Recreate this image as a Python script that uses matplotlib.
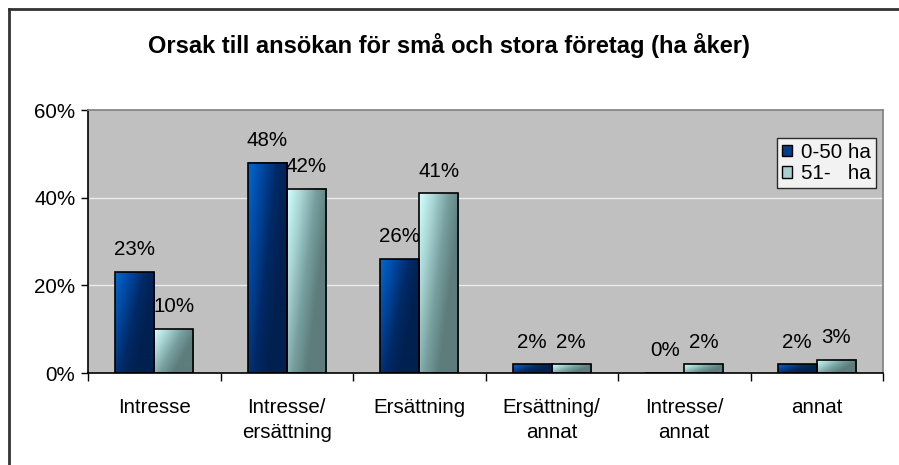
import numpy as np
import matplotlib.pyplot as plt
from matplotlib.lines import Line2D
from matplotlib.patches import Patch
from matplotlib.colors import LinearSegmentedColormap

plt.rcParams['font.family'] = ['Liberation Sans', 'DejaVu Sans']

categories = ['Intresse', 'Intresse/\nersättning', 'Ersättning',
              'Ersättning/\nannat', 'Intresse/\nannat', 'annat']
small = [23, 48, 26, 2, 0, 2]      # 0-50 ha
large = [10, 42, 41, 2, 2, 3]      # 51-   ha
series_names = ['0-50 ha', '51-   ha']

blue_cmap = LinearSegmentedColormap.from_list('b', ['#0068d0', '#0048a0', '#002a66', '#002050'])
cyan_cmap = LinearSegmentedColormap.from_list('c', ['#d4ffff', '#a8d4d4', '#78a0a0', '#5e7c7c'])

fig = plt.figure(figsize=(8.99, 4.65), dpi=100)
W, H = 899, 465
ax = fig.add_axes([88 / W, (H - 373) / H, (883 - 88) / W, (373 - 110) / H])
ax.set_facecolor('#c0c0c0')

width = 0.295
fs = 14.8


def gradient_bar(x0, h, cmap):
    if h <= 0:
        return
    xf = np.linspace(0, 1, 40)
    yf = np.linspace(0, 1, 80)           # 0 at the bar top, 1 at the bottom
    X, Y = np.meshgrid(xf, yf)
    t = np.clip(0.9 * X + 0.55 * Y, 0, 1)
    # flip so that row 0 is the bottom of the bar
    ax.imshow(t[::-1], cmap=cmap, vmin=0, vmax=1, extent=[x0, x0 + width, 0, h],
              origin='lower', aspect='auto', interpolation='bilinear', zorder=2)


x = np.arange(len(categories))
for i in range(len(categories)):
    gradient_bar(x[i] - width, small[i], blue_cmap)
    gradient_bar(x[i], large[i], cyan_cmap)

ax.bar(x - width / 2, small, width, facecolor='none', edgecolor='black',
       linewidth=1.2, zorder=3)
ax.bar(x + width / 2, large, width, facecolor='none', edgecolor='black',
       linewidth=1.2, zorder=3)
ax.set_xlim(-0.5, 5.5)
ax.set_ylim(0, 60)

for i in range(len(categories)):
    ax.annotate(f'{small[i]}%', (x[i] - width / 2, small[i]), xytext=(0, 16),
                textcoords='offset points', ha='center', va='center', fontsize=fs)
    ax.annotate(f'{large[i]}%', (x[i] + width / 2, large[i]), xytext=(0, 16),
                textcoords='offset points', ha='center', va='center', fontsize=fs)

# grid and frame
for g in [20, 40]:
    ax.axhline(g, color='#ececec', linewidth=1, zorder=1)
ax.spines['top'].set_color('#808080')
ax.spines['right'].set_color('#808080')
ax.spines['left'].set_color('black')
ax.spines['bottom'].set_color('black')
for s in ax.spines.values():
    s.set_linewidth(1.2)

ax.set_yticks([0, 20, 40, 60])
ax.set_yticklabels(['0%', '20%', '40%', '60%'], fontsize=fs)
ax.tick_params(axis='y', length=5, width=1, pad=4)

ax.set_xticks(x)
ax.set_xticklabels(categories, fontsize=fs, linespacing=1.4)
ax.set_xticks(np.arange(-0.5, 6.0, 1.0), minor=True)
ax.tick_params(axis='x', which='major', length=0, pad=18)
ax.tick_params(axis='x', which='minor', length=6, width=1)

leg = ax.legend(handles=[Patch(facecolor='#003d8a', edgecolor='black'),
                         Patch(facecolor='#a8d0d0', edgecolor='black')],
                labels=series_names, loc='upper right',
                bbox_to_anchor=(0.9915, 0.895), fontsize=fs, frameon=True,
                fancybox=False, handlelength=0.5, handleheight=0.5,
                handletextpad=0.45, borderpad=0.25, labelspacing=0.12,
                borderaxespad=0)
leg.get_frame().set_edgecolor('black')
leg.get_frame().set_linewidth(1)
leg.get_frame().set_facecolor('white')
leg.set_zorder(5)

fig.text(449 / W, 1 - 45 / H, 'Orsak till ansökan för små och stora företag (ha åker)',
         ha='center', va='center', fontsize=17, fontweight='bold')

# outer border (left and top)
fig.add_artist(Line2D([9 / W, 9 / W], [0, 1 - 9.5 / H], color='#333333', linewidth=2))
fig.add_artist(Line2D([9 / W, 1], [1 - 9.5 / H, 1 - 9.5 / H], color='#333333', linewidth=2))

fig.savefig('out.png', dpi=100)
